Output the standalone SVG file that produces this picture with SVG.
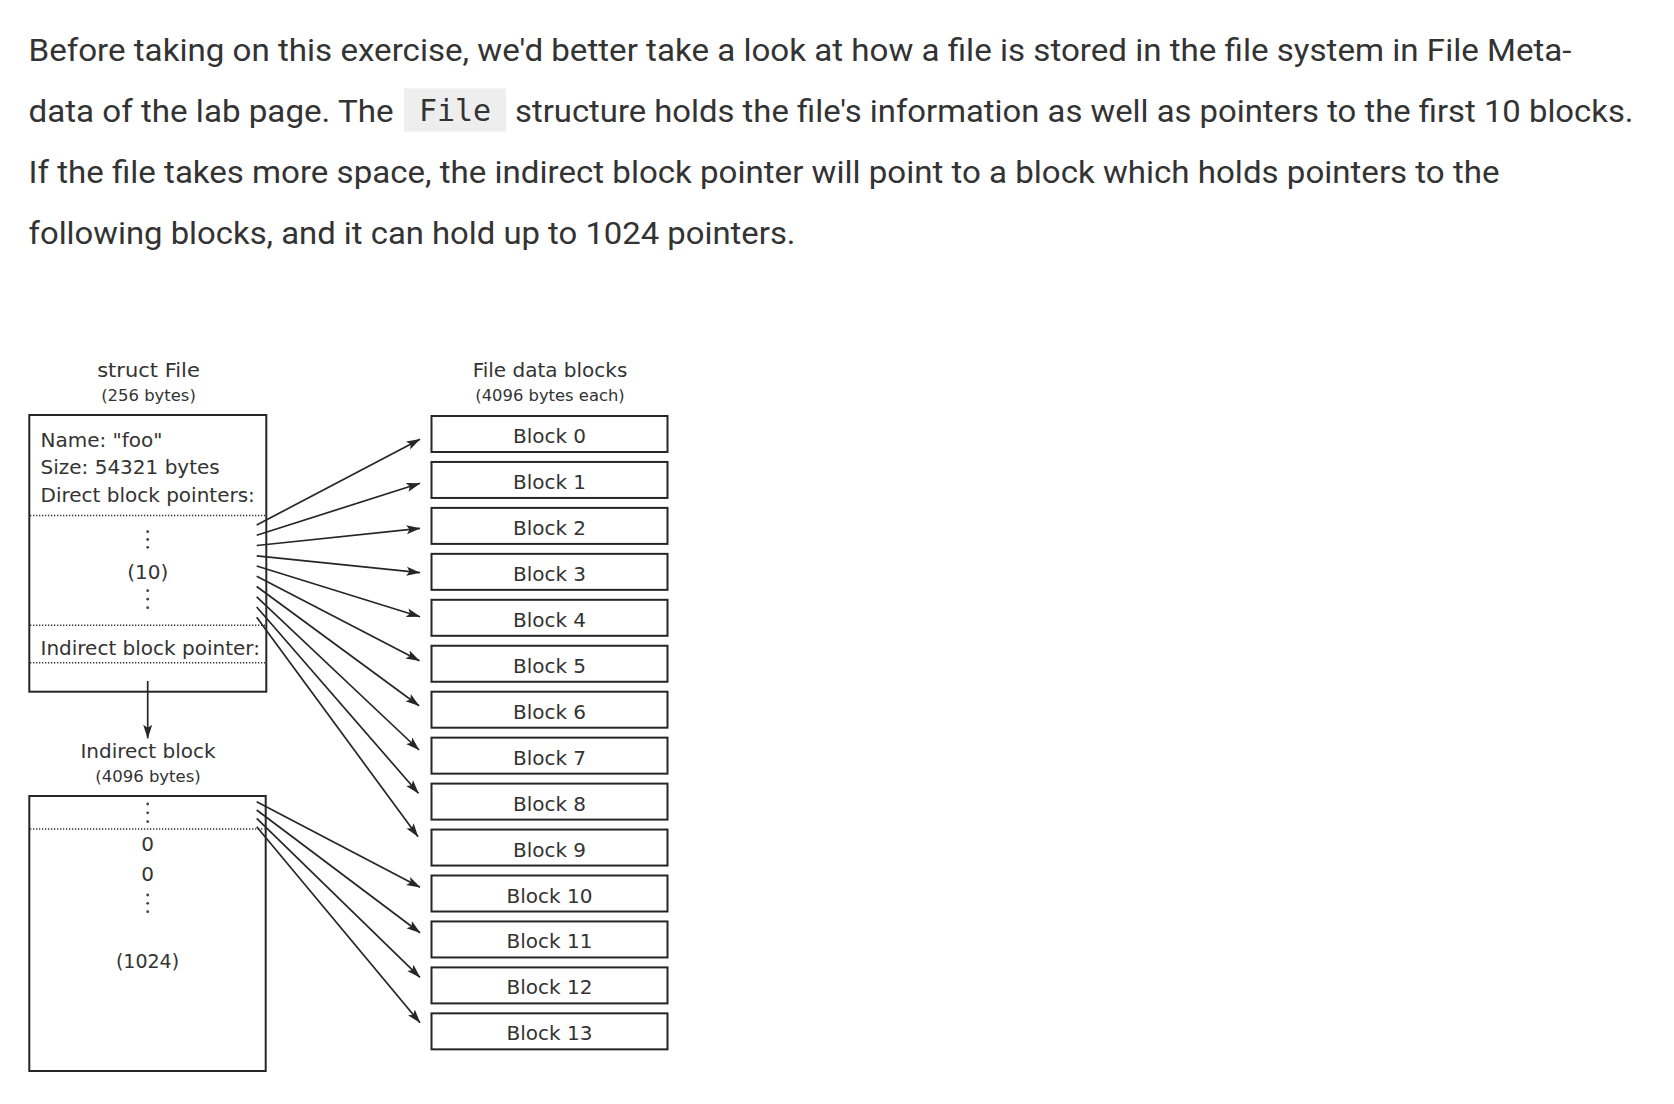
<svg xmlns="http://www.w3.org/2000/svg" width="1674" height="1104" viewBox="0 0 1674 1104">
<style>
.p{font-family:Roboto,"Liberation Sans",sans-serif;font-size:30.5px;fill:#333}
.code{font-family:"DejaVu Sans Mono","Liberation Mono",monospace;font-size:30px;fill:#333}
.t{font-family:"DejaVu Sans","Liberation Sans",sans-serif;font-size:20px;fill:#333}
.s{font-family:"DejaVu Sans","Liberation Sans",sans-serif;font-size:16.5px;fill:#333}
.m{text-anchor:middle}
.box{fill:none;stroke:#262626;stroke-width:2}
.dot{stroke:#333;stroke-width:1.4;stroke-dasharray:1.3 1.7;fill:none}
.vd{fill:#444}
.arr{stroke:#262626;stroke-width:1.7;fill:none;marker-end:url(#ah)}
</style>
<defs>
<marker id="ah" markerUnits="userSpaceOnUse" markerWidth="14" markerHeight="10" viewBox="0 0 14 10" refX="13.5" refY="5" orient="auto">
<path d="M0,0.5 L14,5 L0,9.5 L3,5 z" fill="#262626"/>
</marker>
</defs>
<rect width="1674" height="1104" fill="#fff"/>
<g id="paragraph">
<text class="p" x="28.5" y="60.5" textLength="1543" lengthAdjust="spacingAndGlyphs">Before taking on this exercise, we'd better take a look at how a file is stored in the file system in File Meta-</text>
<text class="p" x="28.5" y="121.5" textLength="365" lengthAdjust="spacingAndGlyphs">data of the lab page. The</text>
<rect x="404" y="88.5" width="102" height="43" fill="#eeeeee"/>
<text class="code m" x="455" y="121">File</text>
<text class="p" x="515" y="121.5" textLength="1118.5" lengthAdjust="spacingAndGlyphs">structure holds the file's information as well as pointers to the first 10 blocks.</text>
<text class="p" x="28.5" y="182.5" textLength="1471" lengthAdjust="spacingAndGlyphs">If the file takes more space, the indirect block pointer will point to a block which holds pointers to the</text>
<text class="p" x="28.5" y="243.5" textLength="767" lengthAdjust="spacingAndGlyphs">following blocks, and it can hold up to 1024 pointers.</text>
</g>
<g id="struct-file">
<text class="t m" x="148.5" y="376.7" textLength="102.7" lengthAdjust="spacingAndGlyphs">struct File</text>
<text class="s m" x="148.5" y="400.5" textLength="94.7" lengthAdjust="spacingAndGlyphs">(256 bytes)</text>
<rect class="box" x="29.3" y="415" width="237" height="276.7"/>
<text class="t" x="40.5" y="446.5">Name: "foo"</text>
<text class="t" x="40.5" y="474.3">Size: 54321 bytes</text>
<text class="t" x="40.5" y="502.3">Direct block pointers:</text>
<line class="dot" x1="30" y1="515.5" x2="265" y2="515.5"/>
<circle class="vd" cx="147.7" cy="531.7" r="1.4"/>
<circle class="vd" cx="147.7" cy="539.5" r="1.4"/>
<circle class="vd" cx="147.7" cy="547.3" r="1.4"/>
<text class="t m" x="147.7" y="578.5">(10)</text>
<circle class="vd" cx="147.7" cy="590.7" r="1.4"/>
<circle class="vd" cx="147.7" cy="599.2" r="1.4"/>
<circle class="vd" cx="147.7" cy="607.7" r="1.4"/>
<line class="dot" x1="30" y1="625.3" x2="265" y2="625.3"/>
<text class="t" x="40.5" y="655">Indirect block pointer:</text>
<line class="dot" x1="30" y1="662.7" x2="265" y2="662.7"/>
</g>
<g id="indirect-block">
<text class="t m" x="148" y="758.3">Indirect block</text>
<text class="s m" x="148" y="782">(4096 bytes)</text>
<rect class="box" x="29.3" y="796" width="236.4" height="275"/>
<circle class="vd" cx="147.7" cy="804" r="1.4"/>
<circle class="vd" cx="147.7" cy="812.8" r="1.4"/>
<circle class="vd" cx="147.7" cy="821.6" r="1.4"/>
<line class="dot" x1="30" y1="829" x2="264.5" y2="829"/>
<text class="t m" x="147.5" y="851">0</text>
<text class="t m" x="147.5" y="881">0</text>
<circle class="vd" cx="147.7" cy="895" r="1.4"/>
<circle class="vd" cx="147.7" cy="903.3" r="1.4"/>
<circle class="vd" cx="147.7" cy="911.7" r="1.4"/>
<text class="t m" x="147.5" y="968" style="font-size:19px">(1024)</text>
</g>
<g id="data-blocks-title">
<text class="t m" x="550" y="376.7">File data blocks</text>
<text class="s m" x="550" y="400.5" textLength="149.5" lengthAdjust="spacingAndGlyphs">(4096 bytes each)</text>
</g>
<g id="block-0"><rect class="box" x="431.5" y="416" width="236" height="36"/><text class="t m" x="549.5" y="443">Block 0</text></g>
<g id="block-1"><rect class="box" x="431.5" y="461.95" width="236" height="36"/><text class="t m" x="549.5" y="488.95">Block 1</text></g>
<g id="block-2"><rect class="box" x="431.5" y="507.9" width="236" height="36"/><text class="t m" x="549.5" y="534.9">Block 2</text></g>
<g id="block-3"><rect class="box" x="431.5" y="553.85" width="236" height="36"/><text class="t m" x="549.5" y="580.85">Block 3</text></g>
<g id="block-4"><rect class="box" x="431.5" y="599.8" width="236" height="36"/><text class="t m" x="549.5" y="626.8">Block 4</text></g>
<g id="block-5"><rect class="box" x="431.5" y="645.75" width="236" height="36"/><text class="t m" x="549.5" y="672.75">Block 5</text></g>
<g id="block-6"><rect class="box" x="431.5" y="691.7" width="236" height="36"/><text class="t m" x="549.5" y="718.7">Block 6</text></g>
<g id="block-7"><rect class="box" x="431.5" y="737.65" width="236" height="36"/><text class="t m" x="549.5" y="764.65">Block 7</text></g>
<g id="block-8"><rect class="box" x="431.5" y="783.6" width="236" height="36"/><text class="t m" x="549.5" y="810.6">Block 8</text></g>
<g id="block-9"><rect class="box" x="431.5" y="829.55" width="236" height="36"/><text class="t m" x="549.5" y="856.55">Block 9</text></g>
<g id="block-10"><rect class="box" x="431.5" y="875.5" width="236" height="36"/><text class="t m" x="549.5" y="902.5">Block 10</text></g>
<g id="block-11"><rect class="box" x="431.5" y="921.45" width="236" height="36"/><text class="t m" x="549.5" y="948.45">Block 11</text></g>
<g id="block-12"><rect class="box" x="431.5" y="967.4" width="236" height="36"/><text class="t m" x="549.5" y="994.4">Block 12</text></g>
<g id="block-13"><rect class="box" x="431.5" y="1013.35" width="236" height="36"/><text class="t m" x="549.5" y="1040.35">Block 13</text></g>
<g id="connectors">
<line class="arr" x1="147.7" y1="681" x2="147.7" y2="738.3"/>
<line class="arr" x1="256.7" y1="525" x2="420" y2="439.3"/>
<line class="arr" x1="256.7" y1="535.2" x2="420" y2="483.3"/>
<line class="arr" x1="256.7" y1="545.5" x2="420" y2="528.3"/>
<line class="arr" x1="256.7" y1="555.8" x2="420" y2="572.7"/>
<line class="arr" x1="256.7" y1="566" x2="420" y2="616.7"/>
<line class="arr" x1="256.7" y1="576.3" x2="419.5" y2="660.7"/>
<line class="arr" x1="256.7" y1="586.5" x2="419" y2="705.7"/>
<line class="arr" x1="256.7" y1="596.8" x2="419" y2="750"/>
<line class="arr" x1="256.7" y1="607" x2="418.5" y2="793.3"/>
<line class="arr" x1="256.7" y1="617.3" x2="418" y2="836.7"/>
<line class="arr" x1="256.7" y1="801.7" x2="420" y2="887.3"/>
<line class="arr" x1="256.7" y1="810" x2="420" y2="932.7"/>
<line class="arr" x1="256.7" y1="818.3" x2="420" y2="977.3"/>
<line class="arr" x1="256.7" y1="826.7" x2="420" y2="1022.7"/>
</g>
</svg>
